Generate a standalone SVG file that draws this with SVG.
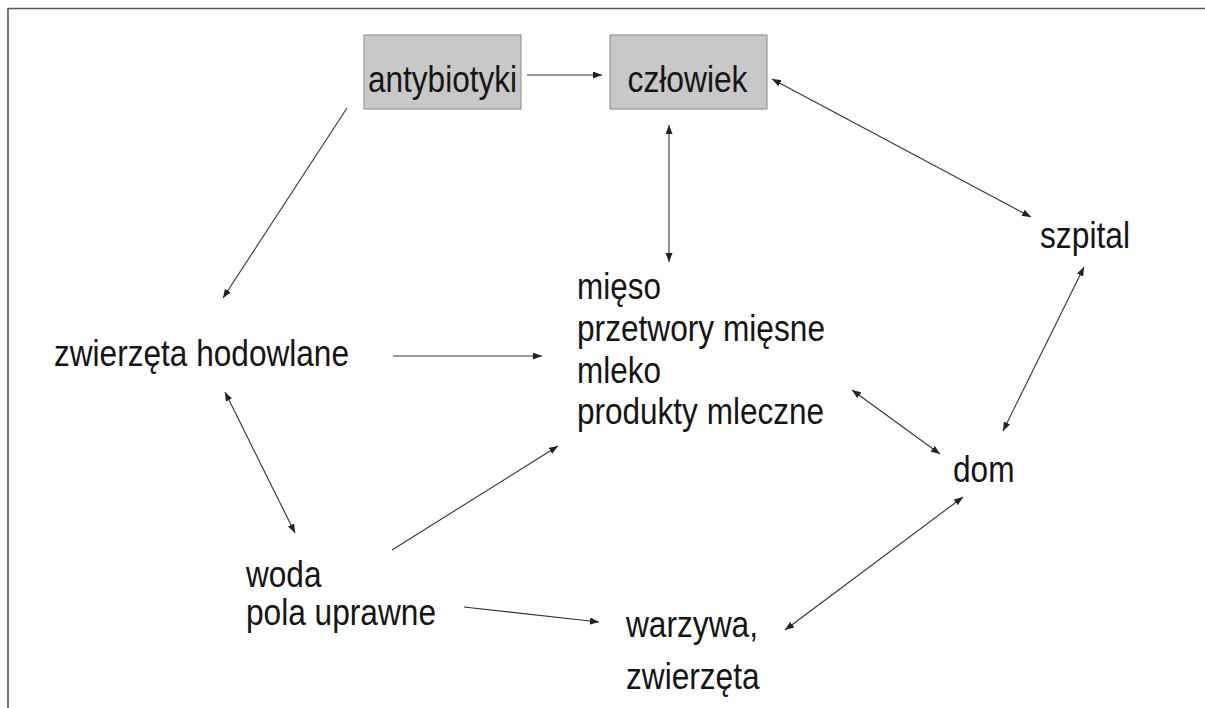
<svg xmlns="http://www.w3.org/2000/svg" width="1205" height="708" viewBox="0 0 1205 708">
<style>
  .t { font-family: "Liberation Sans", Arial, sans-serif; font-size: 37px; fill: #151515; }
  .box { fill: #c8c8c8; stroke: #9a9a9a; stroke-width: 1.2; }
  .c { stroke: #333; stroke-width: 1.1; fill: none; }
  .one { marker-end: url(#ah); }
  .two { marker-start: url(#ah); marker-end: url(#ah); }
</style>
<defs>
  <marker id="ah" viewBox="0 0 9 7" refX="9" refY="3.5" markerWidth="9" markerHeight="7" markerUnits="userSpaceOnUse" orient="auto-start-reverse">
    <path d="M0,0 L9,3.5 L0,7 z" fill="#222"/>
  </marker>
</defs>
<rect width="1205" height="708" fill="#ffffff"/>
<g id="frame">
  <line x1="8" y1="8.5" x2="1205" y2="8.5" stroke="#555" stroke-width="1.6"/>
  <line x1="8" y1="8" x2="8" y2="708" stroke="#555" stroke-width="1.6"/>
</g>
<g id="connectors">
  <line class="c one" x1="527" y1="75" x2="602" y2="75"/>
  <line class="c one" x1="347" y1="108" x2="223" y2="298"/>
  <line class="c two" x1="669" y1="125" x2="669" y2="262"/>
  <line class="c two" x1="772" y1="79" x2="1031" y2="217"/>
  <line class="c one" x1="393" y1="356" x2="542" y2="356"/>
  <line class="c two" x1="225" y1="392" x2="295" y2="533"/>
  <line class="c one" x1="392" y1="550" x2="558" y2="446"/>
  <line class="c one" x1="464" y1="607" x2="599" y2="622"/>
  <line class="c two" x1="852" y1="390" x2="940" y2="454"/>
  <line class="c two" x1="1084" y1="267" x2="1003" y2="431"/>
  <line class="c two" x1="785" y1="630" x2="963" y2="497"/>
</g>
<g id="antybiotyki">
  <rect class="box" x="364" y="35" width="157" height="74"/>
  <text class="t" x="368" y="92" textLength="149" lengthAdjust="spacingAndGlyphs">antybiotyki</text>
</g>
<g id="czlowiek">
  <rect class="box" x="610" y="35" width="157" height="74"/>
  <text class="t" x="627.5" y="92" textLength="120" lengthAdjust="spacingAndGlyphs">człowiek</text>
</g>
<g id="zwierzeta-hodowlane">
  <text class="t" x="54" y="366" textLength="295" lengthAdjust="spacingAndGlyphs">zwierzęta hodowlane</text>
</g>
<g id="mieso">
  <text class="t" x="577" y="299" textLength="84" lengthAdjust="spacingAndGlyphs">mięso</text>
  <text class="t" x="577" y="341" textLength="248" lengthAdjust="spacingAndGlyphs">przetwory mięsne</text>
  <text class="t" x="577" y="383" textLength="84" lengthAdjust="spacingAndGlyphs">mleko</text>
  <text class="t" x="577" y="424" textLength="247" lengthAdjust="spacingAndGlyphs">produkty mleczne</text>
</g>
<g id="szpital">
  <text class="t" x="1040" y="248" textLength="90" lengthAdjust="spacingAndGlyphs">szpital</text>
</g>
<g id="dom">
  <text class="t" x="953" y="482" textLength="61.5" lengthAdjust="spacingAndGlyphs">dom</text>
</g>
<g id="woda">
  <text class="t" x="246" y="587" textLength="75.5" lengthAdjust="spacingAndGlyphs">woda</text>
  <text class="t" x="246" y="625" textLength="190" lengthAdjust="spacingAndGlyphs">pola uprawne</text>
</g>
<g id="warzywa">
  <text class="t" x="626" y="637" textLength="132" lengthAdjust="spacingAndGlyphs">warzywa,</text>
  <text class="t" x="626" y="689" textLength="133.5" lengthAdjust="spacingAndGlyphs">zwierzęta</text>
</g>
</svg>
